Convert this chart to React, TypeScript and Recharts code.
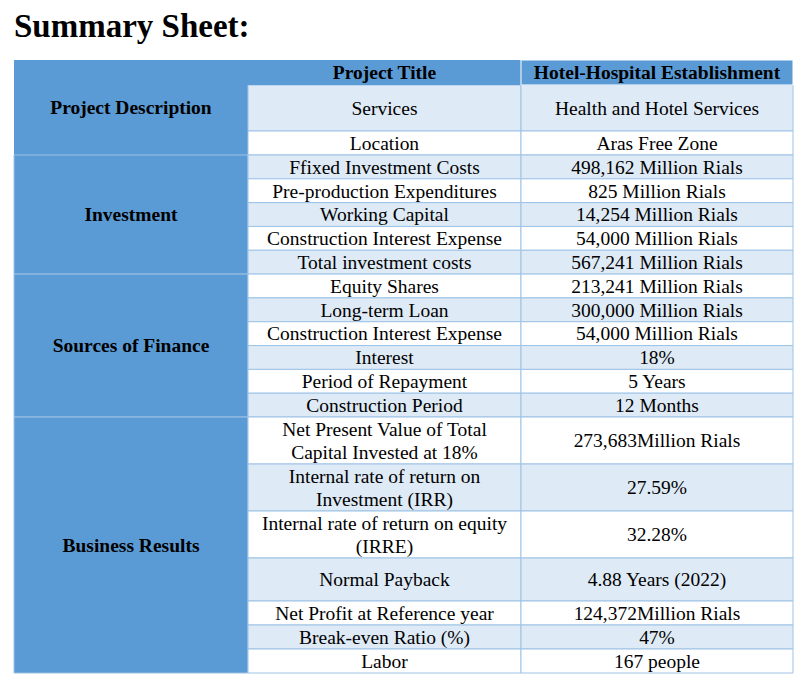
import React from "react";
import { ComposedChart, XAxis, YAxis, ReferenceArea } from "recharts";

// table content
const headerLabels = ["Project Title", "Hotel-Hospital Establishment"];
const groupNames = [
  "Project Description",
  "Investment",
  "Sources of Finance",
  "Business Results",
];
const groupRowCounts = [3, 5, 6, 7];
const itemLabels = [
  "Services",
  "Location",
  "Ffixed Investment Costs",
  "Pre-production Expenditures",
  "Working Capital",
  "Construction Interest Expense",
  "Total investment costs",
  "Equity Shares",
  "Long-term Loan",
  "Construction Interest Expense",
  "Interest",
  "Period of Repayment",
  "Construction Period",
  "Net Present Value of Total\nCapital Invested at 18%",
  "Internal rate of return on\nInvestment (IRR)",
  "Internal rate of return on equity\n(IRRE)",
  "Normal Payback",
  "Net Profit at Reference year",
  "Break-even Ratio (%)",
  "Labor",
];
const itemValues = [
  "Health and Hotel Services",
  "Aras Free Zone",
  "498,162 Million Rials",
  "825 Million Rials",
  "14,254 Million Rials",
  "54,000 Million Rials",
  "567,241 Million Rials",
  "213,241 Million Rials",
  "300,000 Million Rials",
  "54,000 Million Rials",
  "18%",
  "5 Years",
  "12 Months",
  "273,683Million Rials",
  "27.59%",
  "32.28%",
  "4.88 Years (2022)",
  "124,372Million Rials",
  "47%",
  "167 people",
];

// layout (grid units on the hidden axes)
const COL_UNITS = [234, 273, 272];
const ROW_UNITS = [
  25, 46, 24, 23.82, 23.82, 23.82, 23.82, 23.82, 23.82, 23.82, 23.82, 23.82,
  23.82, 23.82, 47, 47, 47, 43, 24, 24, 24,
];

const BLUE = "#5B9BD5";
const LIGHT = "#DEEAF6";
const BORDER = "#9DC3E6";
const FONT = "'Liberation Serif', 'Times New Roman', serif";

const totalW = COL_UNITS.reduce((a, b) => a + b, 0);
const totalH = ROW_UNITS.reduce((a, b) => a + b, 0);
const colEdges = COL_UNITS.reduce<number[]>((acc, w) => [...acc, acc[acc.length - 1] + w], [0]);
const rowEdges = ROW_UNITS.reduce<number[]>((acc, h) => [...acc, acc[acc.length - 1] + h], [0]);

const cellText = (text: string, bold: boolean) => (props: any) => {
  const vb = props.viewBox || props;
  const cx = vb.x + vb.width / 2;
  const cy = vb.y + vb.height / 2;
  const lines = text.split("\n");
  return (
    <g>
      {lines.map((line, i) => (
        <text
          key={i}
          x={cx}
          y={cy + (i - (lines.length - 1) / 2) * 23}
          dy="0.35em"
          textAnchor="middle"
          fontFamily={FONT}
          fontSize={19.5}
          fontWeight={bold ? "bold" : "normal"}
          fill="#000"
        >
          {line}
        </text>
      ))}
    </g>
  );
};

type Cell = {
  x1: number;
  x2: number;
  y1: number;
  y2: number;
  fill: string;
  stroke: string;
  text: string;
  bold: boolean;
};

const buildCells = (): Cell[] => {
  const cells: Cell[] = [];
  // left group column
  let r = 0;
  groupNames.forEach((name, g) => {
    cells.push({
      x1: colEdges[0],
      x2: colEdges[1],
      y1: rowEdges[r],
      y2: rowEdges[r + groupRowCounts[g]],
      fill: BLUE,
      stroke: g === 0 ? "none" : BORDER,
      text: name,
      bold: true,
    });
    r += groupRowCounts[g];
  });
  // body rows
  itemLabels.forEach((label, i) => {
    const row = i + 1;
    const fill = row % 2 === 1 ? LIGHT : "#FFFFFF";
    cells.push({
      x1: colEdges[1],
      x2: colEdges[2],
      y1: rowEdges[row],
      y2: rowEdges[row + 1],
      fill,
      stroke: BORDER,
      text: label,
      bold: false,
    });
    cells.push({
      x1: colEdges[2],
      x2: colEdges[3],
      y1: rowEdges[row],
      y2: rowEdges[row + 1],
      fill,
      stroke: BORDER,
      text: itemValues[i],
      bold: false,
    });
  });
  // header row
  headerLabels.forEach((h, c) => {
    cells.push({
      x1: colEdges[c + 1],
      x2: colEdges[c + 2],
      y1: rowEdges[0],
      y2: rowEdges[1],
      fill: BLUE,
      stroke: c === 0 ? "none" : "#FFFFFF",
      text: h,
      bold: true,
    });
  });
  return cells;
};

export default function App() {
  const cells = buildCells();
  return (
    <div style={{ position: "relative", width: 793, height: 675 }}>
      <div
        style={{
          position: "absolute",
          left: 6,
          top: 2,
          fontFamily: FONT,
          fontSize: 33,
          fontWeight: "bold",
          lineHeight: "33px",
          color: "#000",
        }}
      >
        Summary Sheet:
      </div>
      <div style={{ position: "absolute", left: 5, top: 51 }}>
        <ComposedChart
          width={totalW + 2}
          height={totalH + 2}
          data={[]}
          margin={{ top: 1, right: 1, bottom: 1, left: 1 }}
        >
          <XAxis type="number" dataKey="x" domain={[0, totalW]} allowDataOverflow hide />
          <YAxis type="number" dataKey="y" domain={[0, totalH]} allowDataOverflow reversed hide />
          {cells.map((c, i) => (
            <ReferenceArea
              key={i}
              x1={c.x1}
              x2={c.x2}
              y1={c.y1}
              y2={c.y2}
              fill={c.fill}
              fillOpacity={1}
              stroke={c.stroke}
              strokeWidth={1}
              ifOverflow="visible"
              label={cellText(c.text, c.bold)}
            />
          ))}
        </ComposedChart>
      </div>
    </div>
  );
}
